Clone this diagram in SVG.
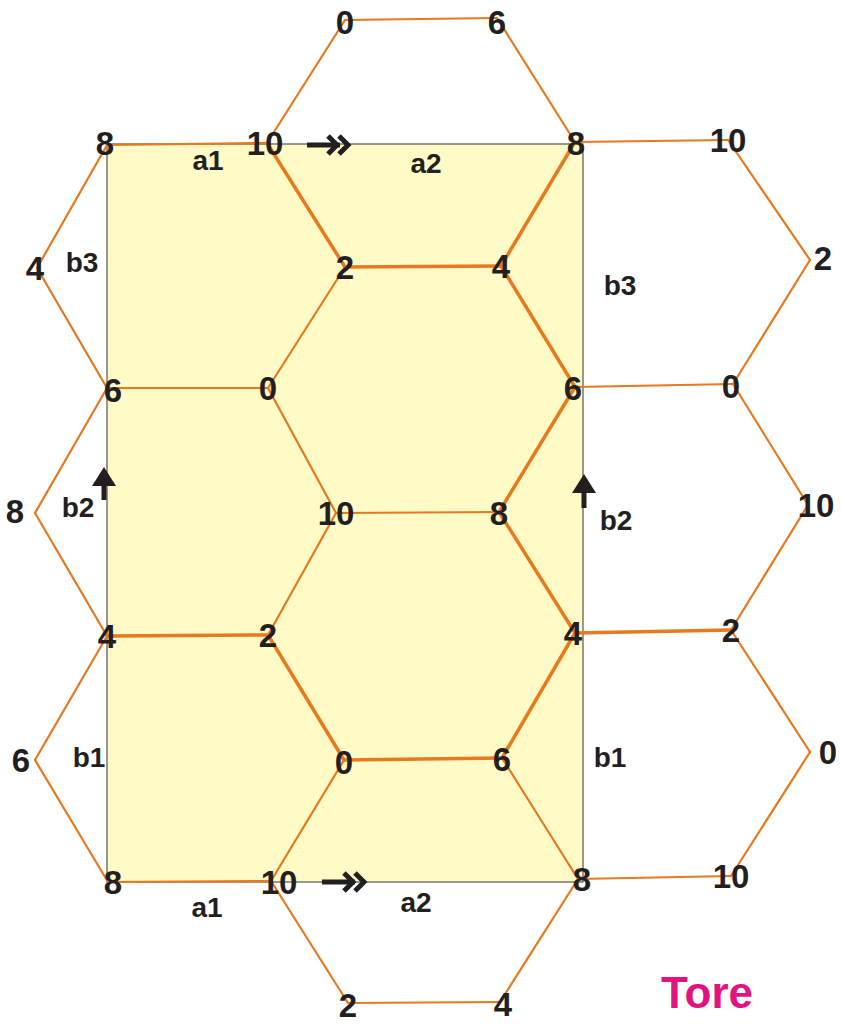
<svg xmlns="http://www.w3.org/2000/svg" width="841" height="1024" viewBox="0 0 841 1024">
<style>
.e{stroke:#e8791e;stroke-width:2.2;fill:none;stroke-linecap:round}
.t{stroke:#e8791e;stroke-width:3.5;fill:none;stroke-linecap:round}
.n{font-family:"Liberation Sans",Arial,sans-serif;font-weight:bold;font-size:33px;fill:#231f20;text-anchor:middle}
.l{font-family:"Liberation Sans",Arial,sans-serif;font-weight:bold;font-size:28px;fill:#231f20;text-anchor:middle}
.ar{stroke:#231f20;stroke-width:5;fill:none}
</style>
<rect x="0" y="0" width="841" height="1024" fill="#ffffff"/>
<rect id="region" x="107" y="144" width="476" height="738" fill="#fffac6" stroke="#555" stroke-width="1.2"/>
<g id="connectors">
<line class="e" x1="107" y1="145" x2="267" y2="143"/>
<line class="e" x1="267" y1="143" x2="345" y2="20"/>
<line class="e" x1="345" y1="20" x2="497" y2="18"/>
<line class="e" x1="497" y1="18" x2="575" y2="142"/>
<line class="t" x1="267" y1="143" x2="345" y2="267"/>
<line class="t" x1="345" y1="267" x2="501" y2="266"/>
<line class="t" x1="501" y1="266" x2="575" y2="142"/>
<line class="e" x1="575" y1="142" x2="728" y2="140"/>
<line class="e" x1="728" y1="140" x2="810" y2="260"/>
<line class="e" x1="810" y1="260" x2="733" y2="384"/>
<line class="e" x1="575" y1="387" x2="733" y2="384"/>
<line class="t" x1="501" y1="266" x2="575" y2="387"/>
<line class="e" x1="345" y1="267" x2="268" y2="388"/>
<line class="e" x1="107" y1="388" x2="268" y2="388"/>
<line class="e" x1="107" y1="145" x2="37" y2="268"/>
<line class="e" x1="37" y1="268" x2="107" y2="388"/>
<line class="e" x1="107" y1="388" x2="35" y2="513"/>
<line class="e" x1="35" y1="513" x2="107" y2="636"/>
<line class="e" x1="268" y1="388" x2="336" y2="513"/>
<line class="e" x1="336" y1="513" x2="499" y2="512"/>
<line class="t" x1="499" y1="512" x2="575" y2="387"/>
<line class="e" x1="733" y1="384" x2="808" y2="505"/>
<line class="e" x1="808" y1="505" x2="731" y2="630"/>
<line class="t" x1="575" y1="633" x2="731" y2="630"/>
<line class="t" x1="499" y1="512" x2="575" y2="633"/>
<line class="e" x1="336" y1="513" x2="268" y2="635"/>
<line class="t" x1="107" y1="636" x2="268" y2="635"/>
<line class="t" x1="268" y1="635" x2="344" y2="760"/>
<line class="t" x1="344" y1="760" x2="502" y2="758"/>
<line class="t" x1="502" y1="758" x2="575" y2="633"/>
<line class="e" x1="107" y1="636" x2="35" y2="760"/>
<line class="e" x1="35" y1="760" x2="108" y2="882"/>
<line class="e" x1="108" y1="882" x2="271" y2="881"/>
<line class="e" x1="271" y1="881" x2="344" y2="760"/>
<line class="e" x1="502" y1="758" x2="578" y2="879"/>
<line class="e" x1="578" y1="879" x2="731" y2="876"/>
<line class="e" x1="731" y1="630" x2="810" y2="752"/>
<line class="e" x1="810" y1="752" x2="731" y2="876"/>
<line class="e" x1="271" y1="881" x2="348" y2="1003"/>
<line class="e" x1="348" y1="1003" x2="500" y2="1002"/>
<line class="e" x1="500" y1="1002" x2="578" y2="879"/>
</g>
<g id="arrows">
<g id="arrow-a-top"><line class="ar" x1="307" y1="145" x2="340" y2="145"/><polyline class="ar" points="328,136 337,145 328,154"/><polyline class="ar" points="339,136 348,145 339,154"/></g>
<g id="arrow-a-bottom"><line class="ar" x1="322" y1="882" x2="355" y2="882"/><polyline class="ar" points="344,873 353,882 344,891"/><polyline class="ar" points="355,873 364,882 355,891"/></g>
<g id="arrow-b-left"><line class="ar" x1="104" y1="500" x2="104" y2="476"/><polygon points="104,467 92,486 116,486" fill="#231f20"/></g>
<g id="arrow-b-right"><line class="ar" x1="584" y1="508" x2="584" y2="483"/><polygon points="584,474 572,493 596,493" fill="#231f20"/></g>
</g>
<g id="nodes">
<g id="n-top-0"><text class="n" x="345" y="34">0</text></g>
<g id="n-top-6"><text class="n" x="497" y="34">6</text></g>
<g id="n-r1-8a"><text class="n" x="105" y="155">8</text></g>
<g id="n-r1-10a"><text class="n" x="265" y="155">10</text></g>
<g id="n-r1-8b"><text class="n" x="576" y="155">8</text></g>
<g id="n-r1-10b"><text class="n" x="728" y="152">10</text></g>
<g id="n-r2-4a"><text class="n" x="35" y="280">4</text></g>
<g id="n-r2-2a"><text class="n" x="345" y="279">2</text></g>
<g id="n-r2-4b"><text class="n" x="501" y="278">4</text></g>
<g id="n-r2-2b"><text class="n" x="823" y="270">2</text></g>
<g id="n-r3-6a"><text class="n" x="113" y="402">6</text></g>
<g id="n-r3-0a"><text class="n" x="268" y="400">0</text></g>
<g id="n-r3-6b"><text class="n" x="573" y="400">6</text></g>
<g id="n-r3-0b"><text class="n" x="731" y="398">0</text></g>
<g id="n-r4-8a"><text class="n" x="15" y="523">8</text></g>
<g id="n-r4-10a"><text class="n" x="336" y="525">10</text></g>
<g id="n-r4-8b"><text class="n" x="499" y="525">8</text></g>
<g id="n-r4-10b"><text class="n" x="816" y="517">10</text></g>
<g id="n-r5-4a"><text class="n" x="107" y="648">4</text></g>
<g id="n-r5-2a"><text class="n" x="268" y="647">2</text></g>
<g id="n-r5-4b"><text class="n" x="573" y="645">4</text></g>
<g id="n-r5-2b"><text class="n" x="731" y="642">2</text></g>
<g id="n-r6-6a"><text class="n" x="21" y="772">6</text></g>
<g id="n-r6-0a"><text class="n" x="344" y="774">0</text></g>
<g id="n-r6-6b"><text class="n" x="502" y="771">6</text></g>
<g id="n-r6-0b"><text class="n" x="828" y="764">0</text></g>
<g id="n-r7-8a"><text class="n" x="113" y="894">8</text></g>
<g id="n-r7-10a"><text class="n" x="279" y="894">10</text></g>
<g id="n-r7-8b"><text class="n" x="582" y="891">8</text></g>
<g id="n-r7-10b"><text class="n" x="731" y="888">10</text></g>
<g id="n-bot-2"><text class="n" x="348" y="1017">2</text></g>
<g id="n-bot-4"><text class="n" x="503" y="1016">4</text></g>
</g>
<g id="edge-labels">
<text class="l" x="208" y="170">a1</text>
<text class="l" x="426" y="173">a2</text>
<text class="l" x="82" y="272">b3</text>
<text class="l" x="620" y="295">b3</text>
<text class="l" x="78" y="517">b2</text>
<text class="l" x="616" y="530">b2</text>
<text class="l" x="89" y="767">b1</text>
<text class="l" x="610" y="767">b1</text>
<text class="l" x="207" y="917">a1</text>
<text class="l" x="416" y="912">a2</text>
</g>
<text id="title" x="707" y="1008" font-family="Liberation Sans,Arial,sans-serif" font-weight="bold" font-size="44" fill="#e2137f" text-anchor="middle">Tore</text>
</svg>
